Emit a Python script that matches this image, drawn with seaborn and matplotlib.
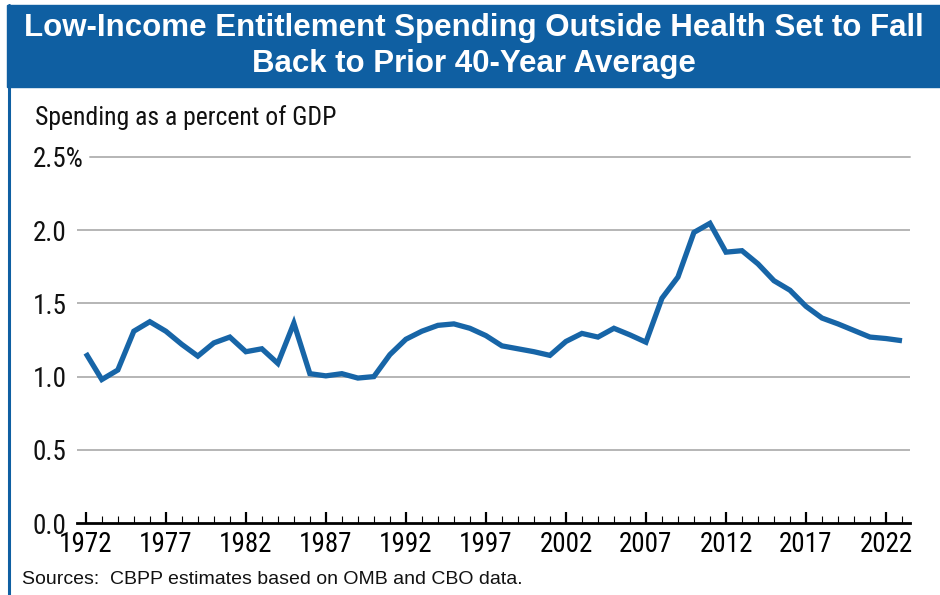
import numpy as np
import pandas as pd
import matplotlib
matplotlib.use("Agg")
import matplotlib.pyplot as plt
from matplotlib.ticker import MultipleLocator
from matplotlib.patches import Rectangle
from matplotlib.lines import Line2D
import seaborn as sns

# data (percent of GDP)
years = list(range(1972, 2024))
spending = [1.16, 0.98, 1.045, 1.31, 1.375, 1.31, 1.22, 1.14, 1.23, 1.27,
            1.17, 1.19, 1.09, 1.365, 1.02, 1.005, 1.02, 0.99, 1.00, 1.15,
            1.255, 1.31, 1.35, 1.36, 1.33, 1.28, 1.21, 1.19, 1.17, 1.145,
            1.24, 1.295, 1.27, 1.33, 1.285, 1.235, 1.535, 1.68, 1.985, 2.047,
            1.85, 1.86, 1.77, 1.655, 1.59, 1.48, 1.40, 1.36, 1.315, 1.27,
            1.26, 1.245]
ytick_vals = [0.0, 0.5, 1.0, 1.5, 2.0, 2.5]
ytick_labels = ["0.0", "0.5", "1.0", "1.5", "2.0", "2.5%"]
xtick_vals = list(range(1972, 2023, 5))

title = "Low-Income Entitlement Spending Outside Health Set to Fall\nBack to Prior 40-Year Average"
ylab = "Spending as a percent of GDP"
source = "Sources:  CBPP estimates based on OMB and CBO data."

df = pd.DataFrame({"year": years, "pct": spending})

sns.set_style("white")
narrow = ["Roboto Condensed", "Liberation Sans Narrow", "DejaVu Sans"]
plt.rcParams["font.family"] = narrow
plt.rcParams["font.stretch"] = "condensed"

blue = "#0f5fa2"
line_blue = "#1765a7"

fig = plt.figure(figsize=(9.4, 5.95), dpi=100)
ax = fig.add_axes([77/940, 1-523/595, (910-77)/940, (523-157)/595])

sns.lineplot(data=df, x="year", y="pct", ax=ax, color=line_blue, lw=3.8,
             solid_joinstyle="miter", solid_capstyle="butt")

ax.set_xlim(1971.45, 2023.5)
ax.set_ylim(0, 2.5)
ax.set_yticks(ytick_vals)
ax.set_yticklabels(ytick_labels, ha="left")
ax.set_xticks(xtick_vals)
ax.set_xticklabels([str(y) for y in xtick_vals])
ax.xaxis.set_minor_locator(MultipleLocator(1))
for v in ytick_vals[1:-1]:
    ax.axhline(v, color="#b5b5b5", lw=1.4, zorder=0)
# top gridline starts after the wider "2.5%" label
ax.axhline(ytick_vals[-1], xmin=(90-77)/(910-77), color="#b5b5b5", lw=1.4,
           zorder=0, clip_on=False)

for s in ["top", "right", "left"]:
    ax.spines[s].set_visible(False)
ax.spines["bottom"].set_color("black")
ax.spines["bottom"].set_linewidth(2)
ax.tick_params(axis="x", which="major", direction="in", length=8, width=1.6,
               colors="black", labelsize=19.5, pad=5.5, bottom=True)
ax.tick_params(axis="x", which="minor", direction="in", length=5, width=0.8,
               colors="black", bottom=True)
ax.tick_params(axis="y", length=0, labelsize=19.5, pad=44/100*72, colors="#111111")
ax.set_xlabel("")
ax.set_ylabel("")
ax.grid(False)

# blue banner and left frame
fig.patches.append(Rectangle((7/940, 1-87/595), 1, 82/595, transform=fig.transFigure,
                             color=blue, zorder=0))
fig.lines.append(Line2D([8.5/940, 8.5/940], [0, 1-5/595], transform=fig.transFigure,
                        color=blue, lw=2.2))

fig.text(474/940, 1-46/595, title, ha="center", va="center", color="white",
         fontsize=22.5, fontweight="bold", linespacing=1.25, stretch="normal",
         family=["Liberation Sans", "DejaVu Sans"])
fig.text(35/940, 1-118/595, ylab, ha="left", va="center", fontsize=18.5,
         color="#111111")
fig.text(22/940, 1-580/595, source, ha="left", va="center", fontsize=14,
         color="#111111", stretch="normal", family=["Liberation Sans", "DejaVu Sans"])

fig.savefig("out.png", dpi=100)
